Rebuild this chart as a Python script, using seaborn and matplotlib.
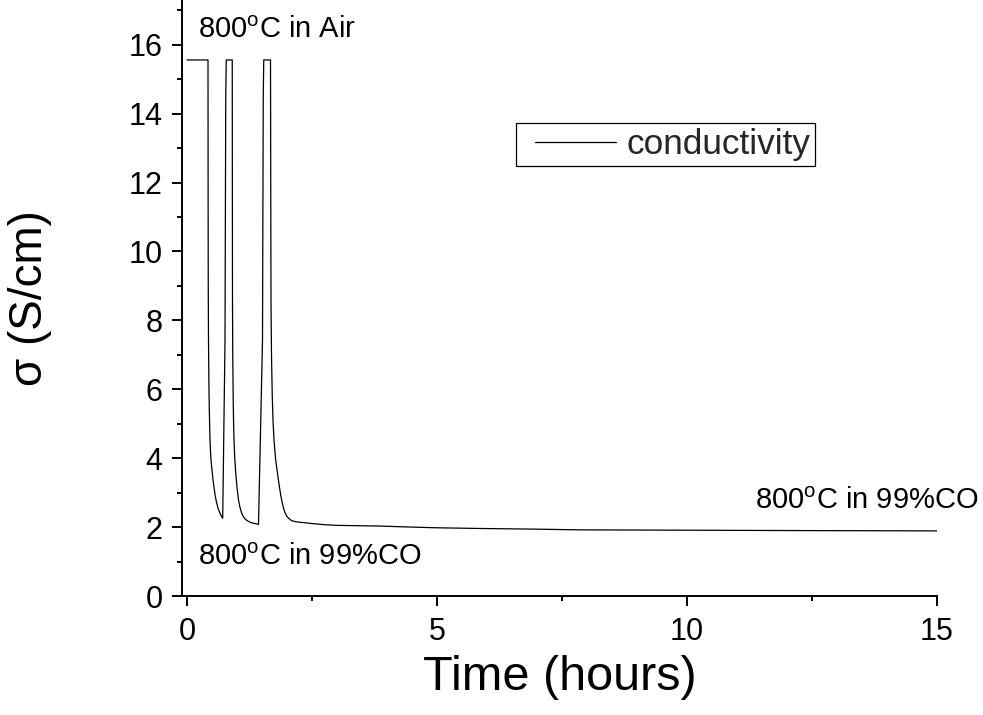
import matplotlib
matplotlib.use("Agg")
import matplotlib.pyplot as plt
from matplotlib.legend_handler import HandlerLine2D
from matplotlib.lines import Line2D
import seaborn as sns
import pandas as pd

# ---- data ----
time_h = [0.00, 0.42, 0.422, 0.425, 0.43, 0.437, 0.445, 0.452, 0.46, 0.47, 0.48, 0.493, 0.506, 0.52,
          0.54, 0.56, 0.58, 0.60, 0.62, 0.64, 0.66, 0.68, 0.70, 0.714,
          0.76, 0.775, 0.785, 0.905, 0.907, 0.91, 0.915, 0.925, 0.932, 0.94, 0.955, 0.975, 1.00,
          1.03, 1.06, 1.09, 1.12, 1.16, 1.20, 1.25, 1.30, 1.37, 1.43,
          1.51, 1.525, 1.535, 1.67, 1.675, 1.68, 1.69, 1.705, 1.72, 1.74, 1.77, 1.81, 1.845, 1.875,
          1.905, 1.93, 1.96, 1.99, 2.03, 2.08, 2.13, 2.20, 2.26, 2.40, 2.52, 2.75,
          3.0, 3.86, 4.5, 5.0, 5.86, 7.0, 7.86, 10.0, 12.0, 15.0]
sigma = [15.56, 15.56, 12.0, 9.0, 7.4, 6.3, 5.5, 5.0, 4.53, 4.2, 3.95, 3.75, 3.56, 3.38,
         3.15, 2.95, 2.79, 2.66, 2.55, 2.47, 2.40, 2.34, 2.29, 2.26,
         7.4, 14.5, 15.56, 15.56, 12.0, 8.5, 7.0, 5.6, 5.0, 4.53, 4.0, 3.56, 3.15,
         2.79, 2.57, 2.42, 2.32, 2.24, 2.19, 2.15, 2.12, 2.10, 2.08,
         7.43, 14.5, 15.56, 15.56, 12.0, 8.5, 7.0, 5.8, 5.1, 4.53, 4.0, 3.56, 3.2, 2.92,
         2.70, 2.55, 2.42, 2.33, 2.26, 2.20, 2.17, 2.15, 2.14, 2.12, 2.10, 2.07,
         2.05, 2.03, 2.00, 1.98, 1.96, 1.94, 1.92, 1.91, 1.90, 1.89]
series_label = "conductivity"
x_ticks = [0, 5, 10, 15]
x_minor = [2.5, 7.5, 12.5]
y_ticks = [0, 2, 4, 6, 8, 10, 12, 14, 16]
y_minor = [1, 3, 5, 7, 9, 11, 13, 15, 17]
annotations = [
    (0.22, 16.2, "800$^\\mathrm{o}$C in Air"),
    (0.22, 0.90, "800$^\\mathrm{o}$C in 99%CO"),
    (11.36, 2.52, "800$^\\mathrm{o}$C in 99%CO"),
]

df = pd.DataFrame({"t": time_h, "sigma": sigma})

sns.set_theme(style="ticks")
plt.rcParams["font.family"] = ["Liberation Sans", "DejaVu Sans"]
plt.rcParams["mathtext.fontset"] = "custom"
plt.rcParams["mathtext.rm"] = "Liberation Sans"
plt.rcParams["mathtext.it"] = "Liberation Sans:italic"
plt.rcParams["mathtext.bf"] = "Liberation Sans:bold"

fig = plt.figure(figsize=(9.83, 7.15), dpi=100)
ax = fig.add_axes([182 / 983, 1 - 596 / 715, (937 - 182) / 983, 596 / 715])

sns.lineplot(data=df, x="t", y="sigma", ax=ax, color="black", linewidth=0.9,
             estimator=None, sort=False, label=series_label)

ax.set_xlim(-0.1, 15.0)
ax.set_ylim(0, 17.3)
ax.set_xticks(x_ticks)
ax.set_xticks(x_minor, minor=True)
ax.set_yticks(y_ticks)
ax.set_yticks(y_minor, minor=True)
ax.set_xticklabels([str(v) for v in x_ticks])
ax.set_yticklabels([str(v) for v in y_ticks])

for s in ["top", "right"]:
    ax.spines[s].set_visible(False)
for s in ["left", "bottom"]:
    ax.spines[s].set_linewidth(1.4)
    ax.spines[s].set_color("black")

ax.tick_params(axis="both", which="major", direction="out", length=7, width=1.4,
               labelsize=22, colors="black")
ax.tick_params(axis="both", which="minor", direction="out", length=3.5, width=1.4, colors="black")
ax.tick_params(axis="x", which="major", pad=8)
ax.tick_params(axis="y", which="major", pad=7)

ax.set_xlabel("Time (hours)", fontsize=35, color="black", labelpad=6)
ax.set_ylabel("σ (S/cm)", fontsize=33, color="black")
ax.yaxis.set_label_coords(-0.172, 0.5)

for x, y, txt in annotations:
    ax.text(x, y, txt, fontsize=21, color="black", ha="left", va="baseline")

leg = ax.legend(loc="upper left", bbox_to_anchor=(516 / 983, 1 - 123 / 715),
                bbox_transform=fig.transFigure, borderaxespad=0, fontsize=25.3,
                frameon=True, fancybox=False, shadow=False, framealpha=1,
                handlelength=2.7, handletextpad=0.3, borderpad=0.14,
                handler_map={Line2D: HandlerLine2D(xpad=0.4)})
leg.get_frame().set_edgecolor("black")
leg.get_frame().set_linewidth(0.9)
for h in leg.get_lines():
    h.set_linewidth(0.9)

fig.savefig("out.png", dpi=100)
